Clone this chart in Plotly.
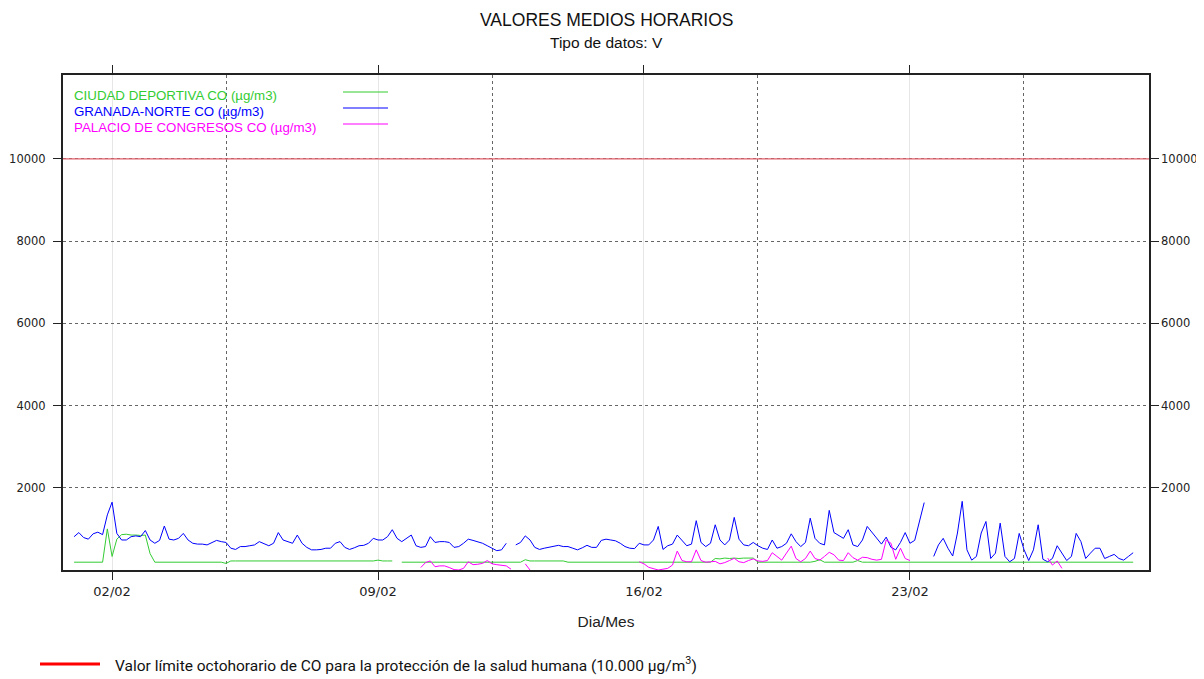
import plotly.graph_objects as go
import pandas as pd

# 3-hourly samples, 01/02 00:00 -> 28/02 21:00 (8 values per day)
times = pd.date_range("2023-02-01 00:00", periods=224, freq="3h")

ciudad_deportiva = [
    190, 190, 190, 190, 190, 190, 190, 1000,   # 01/02
    330, 750, 860, 870, 850, 850, 840, 850,    # 02/02
    400, 190, 190, 190, 190, 190, 190, 190,    # 03/02
    190, 190, 190, 190, 190, 190, 200, 190,    # 04/02
    160, 220, 220, 220, 220, 220, 220, 220,    # 05/02
    220, 220, 220, 230, 220, 220, 220, 220,    # 06/02
    220, 220, 220, 220, 220, 220, 220, 230,    # 07/02
    220, 220, 220, 220, 220, 220, 220, 220,    # 08/02
    240, 220, 220, 220, None, 190, 190, 190,   # 09/02
    190, 190, 190, 190, 190, 190, 190, 190,    # 10/02
    190, 190, 190, 190, 190, 190, 190, 190,    # 11/02
    190, 190, 190, 190, 190, 190, 190, 250,    # 12/02
    220, 220, 220, 220, 220, 220, 220, 220,    # 13/02
    190, 190, 190, 190, 190, 190, 190, 190,    # 14/02
    190, 190, 190, 190, 190, 190, 190, 190,    # 15/02
    190, 190, 190, 190, 190, 190, 190, 190,    # 16/02
    190, 190, 190, 190, 190, 190, 190, 280,    # 17/02
    270, 290, 280, 290, 280, 290, 290, 290,    # 18/02
    190, 190, 190, 190, 190, 190, 190, 190,    # 19/02
    190, 190, 190, 190, 210, 250, 190, 190,    # 20/02
    200, 190, 190, 190, 190, 230, 190, 190,    # 21/02
    190, 190, 190, 190, 190, 190, 190, 190,    # 22/02
    190, 190, 200, 190, 190, 190, 190, 190,    # 23/02
    190, 190, 190, 190, 190, 190, 190, 190,    # 24/02
    190, 190, 190, 200, 190, 190, 190, 190,    # 25/02
    190, 190, 190, 190, 190, 190, 190, 190,    # 26/02
    190, 190, 190, 190, 190, 190, 190, 190,    # 27/02
    190, 190, 190, 190, 190, 190, 190, 190,    # 28/02
]

granada_norte = [
    810, 910, 790, 750, 880, 920, 860, 1340,   # 01/02
    1650, 890, 730, 730, 810, 830, 810, 960,   # 02/02
    730, 650, 720, 1070, 750, 730, 770, 890,   # 03/02
    730, 650, 630, 630, 610, 670, 720, 690,    # 04/02
    670, 530, 500, 570, 570, 590, 610, 690,    # 05/02
    630, 590, 650, 910, 730, 690, 650, 850,    # 06/02
    650, 550, 490, 490, 500, 530, 530, 650,    # 07/02
    690, 550, 500, 540, 590, 600, 650, 770,    # 08/02
    730, 730, 810, 980, 770, 690, 770, 850,    # 09/02
    590, 550, 570, 810, 670, 690, 690, 670,    # 10/02
    550, 570, 650, 750, 720, 690, 650, 590,    # 11/02
    530, 470, 490, 650, None, 610, 670, 830,   # 12/02
    730, 550, 500, 530, 550, 570, 600, 570,    # 13/02
    570, 530, 490, 540, 600, 550, 550, 720,    # 14/02
    750, 730, 710, 650, 570, 530, 520, 650,    # 15/02
    610, 610, 730, 1060, 500, 590, 630, 850,   # 16/02
    720, 590, 630, 1200, 670, 570, 650, 1100,  # 17/02
    730, 610, 730, 1280, 750, 610, 590, 670,   # 18/02
    590, 530, 500, 730, 530, 570, 650, 880,    # 19/02
    690, 570, 670, 1260, 770, 650, 610, 1450,  # 20/02
    910, 850, 770, 980, 610, 570, 730, 1060,   # 21/02
    910, 770, 630, 800, 550, 490, 670, 910,    # 22/02
    650, 720, 1180, 1640, None, 330, 610, 770, # 23/02
    530, 340, 900, 1670, 490, 240, 330, 900,   # 24/02
    1180, 280, 410, 1140, 330, 200, 280, 890,  # 25/02
    500, 230, 490, 1100, 260, 200, 280, 590,   # 26/02
    410, 230, 330, 890, 690, 280, 410, 530,    # 27/02
    530, 280, 330, 380, 280, 240, 330, 420,    # 28/02
]

palacio_congresos = (
    [None] * 72                                           # 01/02 - 09/02
    + [None, 60, 180, 220, 80, 100, 100, 60]              # 10/02
    + [10, 0, 40, 200, 130, 140, 160, 230]                # 11/02
    + [150, 130, 110, 100, 20, None, None, 150]           # 12/02
    + [0] + [None] * 7                                    # 13/02
    + [None] * 8                                          # 14/02
    + [None] * 7 + [200]                                  # 15/02
    + [150, 65, 30, 0, 20, 40, 120, 460]                  # 16/02
    + [230, 200, 200, 490, 230, 190, 200, 210]            # 17/02
    + [150, 180, 230, 285, 200, 180, 230, 270]            # 18/02
    + [220, 210, 230, 420, 330, 240, 410, 580]            # 19/02
    + [280, 200, 280, 460, 280, 240, 330, 430]            # 20/02
    + [370, 240, 230, 420, 300, 240, 310, 300]            # 21/02
    + [260, 240, 260, 730, 650, 260, 530, 280]            # 22/02
    + [230] + [None] * 7                                  # 23/02
    + [None] * 8                                          # 24/02
    + [None] * 8                                          # 25/02
    + [None] * 5 + [290, 120, 220]                        # 26/02
    + [40] + [None] * 7                                   # 27/02
)

series_names = [
    "CIUDAD DEPORTIVA CO (µg/m3)",
    "GRANADA-NORTE CO (µg/m3)",
    "PALACIO DE CONGRESOS CO (µg/m3)",
]
series_colors = ["#33cc33", "#0000ff", "#ff00ff"]

limit_value = 10000
y_ticks = [2000, 4000, 6000, 8000, 10000]
x_ticks = ["2023-02-02", "2023-02-09", "2023-02-16", "2023-02-23"]
x_minor = ["2023-02-05", "2023-02-12", "2023-02-19", "2023-02-26"]
x_range = ["2023-01-31 17:00", "2023-03-01 07:00"]
y_range = [0, 12040]

fig = go.Figure()

for name, vals, col in zip(series_names,
                           [ciudad_deportiva, granada_norte, palacio_congresos],
                           series_colors):
    fig.add_trace(go.Scatter(
        x=times, y=vals, mode="lines", name=name,
        line=dict(color=col, width=1),
        showlegend=False,
    ))

# invisible trace so the right-hand axis gets drawn
fig.add_trace(go.Scatter(x=[times[0]], y=[None], yaxis="y2",
                         showlegend=False, hoverinfo="skip"))

# limit line
fig.add_hline(y=limit_value, line=dict(color="#e0606a", width=1.2))

tick_font = dict(family="DejaVu Sans, Verdana, sans-serif", size=11.5, color="#222")

# page body has an 8px margin, so the figure is shrunk by that much
fig.update_layout(
    width=1196, height=671,
    margin=dict(l=55, r=55, t=67, b=109, autoexpand=False),
    plot_bgcolor="white",
    paper_bgcolor="white",
    font=dict(family="Liberation Sans, Arial, sans-serif", color="#222"),
    xaxis=dict(
        type="date",
        automargin=False,
        range=x_range,
        tickvals=x_ticks,
        tickformat="%d/%m",
        tickfont=dict(family="DejaVu Sans, Verdana, sans-serif", size=13, color="#222"),
        ticks="outside", ticklen=8, tickcolor="#222",
        showline=True, linecolor="#222", linewidth=2,
        mirror="ticks",
        showgrid=True, gridcolor="#e6e6e6", gridwidth=1,
        minor=dict(tickvals=x_minor, showgrid=True, gridcolor="#666",
                   griddash="dot", gridwidth=1, ticks=""),
        zeroline=False,
        title=dict(text="Dia/Mes", font=dict(size=15.5), standoff=19),
    ),
    yaxis=dict(
        automargin=False,
        range=y_range,
        tickvals=y_ticks,
        tickformat="d",
        tickfont=tick_font,
        ticks="outside", ticklen=8, tickcolor="#222",
        ticklabelstandoff=5,
        showline=True, linecolor="#222", linewidth=2,
        mirror="ticks",
        showgrid=True, gridcolor="#666", griddash="dot", gridwidth=1,
        zeroline=False,
    ),
    yaxis2=dict(
        automargin=False,
        overlaying="y", side="right",
        range=y_range,
        tickvals=y_ticks,
        tickformat="d",
        tickfont=tick_font,
        ticks="", ticklabelstandoff=11,
        showgrid=False, zeroline=False, showline=False,
    ),
    showlegend=False,
)

# titles
fig.add_annotation(text="VALORES MEDIOS HORARIOS", xref="paper", yref="paper",
                   x=0.5, y=1, yanchor="middle", yshift=55, showarrow=False,
                   font=dict(size=17.5, color="#111"))
fig.add_annotation(text="Tipo de datos: V", xref="paper", yref="paper",
                   x=0.5, y=1, yanchor="middle", yshift=33, showarrow=False,
                   font=dict(size=15.5, color="#111"))

# legend inside plot (text then line sample)
for i, (name, col) in enumerate(zip(series_names, series_colors)):
    ypix = 16 * i
    fig.add_annotation(text=name, xref="paper", yref="paper",
                       x=(72 - 63) / 1086, y=1, xanchor="left", yanchor="middle",
                       yshift=-20 - ypix, showarrow=False,
                       font=dict(size=13.3, color=col))
    yp = 1 - (17 + ypix) / 495
    fig.add_shape(type="line", xref="paper", yref="paper",
                  x0=(343 - 63) / 1086, x1=(388 - 63) / 1086, y0=yp, y1=yp,
                  line=dict(color=col, width=1))

# bottom legend for the limit value
fig.add_shape(type="line", xref="paper", yref="paper",
              x0=(40 - 63) / 1086, x1=(100 - 63) / 1086,
              y0=-(664 - 570) / 495, y1=-(664 - 570) / 495,
              line=dict(color="#ff0000", width=3))
fig.add_annotation(
    text="Valor límite octohorario de CO para la protección de la salud humana (10.000 µg/m<sup>3</sup>)",
    xref="paper", yref="paper", x=(113 - 63) / 1086, y=-(664 - 570) / 495,
    xanchor="left", yanchor="middle", showarrow=False,
    font=dict(family="Liberation Sans Narrow, Arial Narrow, Roboto, sans-serif",
              size=15.5, color="#111"))

fig.write_html("out.html")
